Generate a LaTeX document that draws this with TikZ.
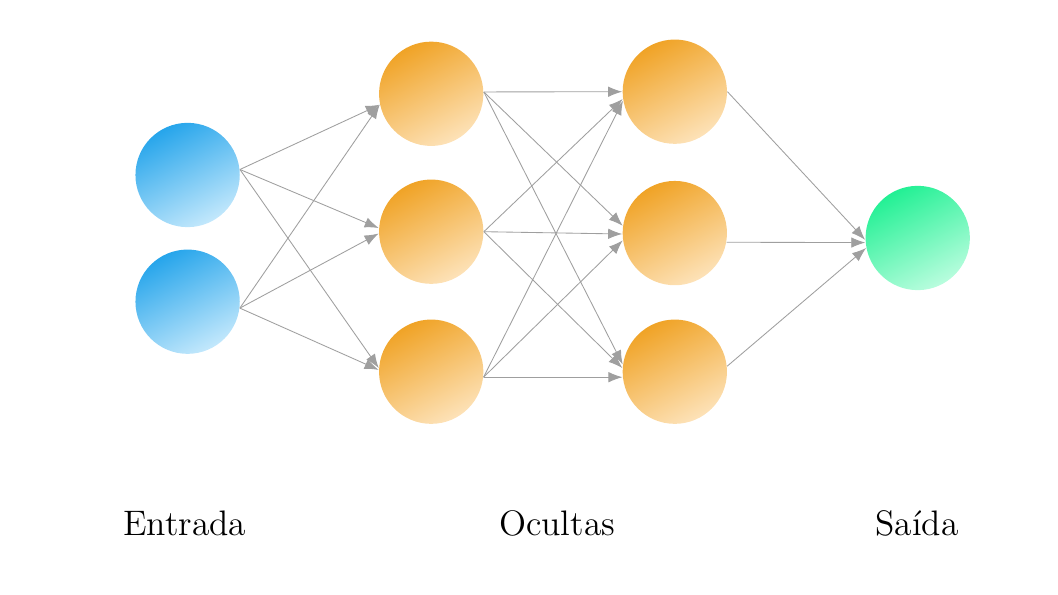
\documentclass[tikz,border=0pt]{standalone}
\usepackage{xcolor}
\usetikzlibrary{arrows.meta, positioning}

\definecolor{inDark}{RGB}{38,165,235}
\definecolor{inLight}{RGB}{195,232,252}
\definecolor{hidDark}{RGB}{240,163,38}
\definecolor{hidLight}{RGB}{253,226,184}
\definecolor{outDark}{RGB}{34,240,148}
\definecolor{outLight}{RGB}{185,253,222}

\tikzset{
	neuron/.style={circle, minimum size=1.49cm, inner sep=0pt},
	inneuron/.style={neuron, top color=inDark, bottom color=inLight, shading angle=28},
	hidneuron/.style={neuron, top color=hidDark, bottom color=hidLight, shading angle=28},
	outneuron/.style={neuron, top color=outDark, bottom color=outLight, shading angle=28},
	link/.style={draw=gray!75, line width=0.35pt, -{Latex[length=2mm, width=1.5mm]}},
	layerlabel/.style={font=\Large}
}

\begin{document}
\begin{tikzpicture}
			\useasboundingbox (0,0) rectangle (15.114,-8.5);
			
			\node[inneuron] (IN1) at (2.68,-2.50) {};
			\node[inneuron] (IN2) at (2.68,-4.31) {};
			
			\node[hidneuron] (HA1) at (6.16,-1.34) {};
			\node[hidneuron] (HA2) at (6.16,-3.31) {};
			\node[hidneuron] (HA3) at (6.16,-5.31) {};
			
			\node[hidneuron] (HB1) at (9.64,-1.31) {};
			\node[hidneuron] (HB2) at (9.64,-3.33) {};
			\node[hidneuron] (HB3) at (9.64,-5.31) {};
			
			\node[outneuron] (OUT) at (13.11,-3.40) {};
			
			% entrada -> primeira camada oculta
			\draw[link] (IN1.6) -- (HA1.192);
			\draw[link] (IN1.6) -- (HA2.176);
			\draw[link] (IN1.6) -- (HA3.176);
			\draw[link] (IN2.353) -- (HA1.192);
			\draw[link] (IN2.353) -- (HA2.182);
			\draw[link] (IN2.353) -- (HA3.178);
			
			% primeira -> segunda camada oculta
			\draw[link] (HA1.2) -- (HB1.180);
			\draw[link] (HA1.2) -- (HB2.172);
			\draw[link] (HA1.2) -- (HB3.172);
			\draw[link] (HA2.0) -- (HB1.188);
			\draw[link] (HA2.0) -- (HB2.181);
			\draw[link] (HA2.0) -- (HB3.176);
			\draw[link] (HA3.354) -- (HB1.190);
			\draw[link] (HA3.354) -- (HB2.188);
			\draw[link] (HA3.354) -- (HB3.186);
			
			% segunda camada oculta -> saida
			\draw[link] (HB1.0) -- (OUT.182);
			\draw[link] (HB2.350) -- (OUT.185);
			\draw[link] (HB3.6) -- (OUT.191);
			
			\node[layerlabel] (LIN) at (2.64,-7.47) {Entrada};
			\node[layerlabel] (LHID) at (7.96,-7.47) {Ocultas};
			\node[layerlabel] (LOUT) at (13.10,-7.47) {Saída};
		\end{tikzpicture}
\end{document}
